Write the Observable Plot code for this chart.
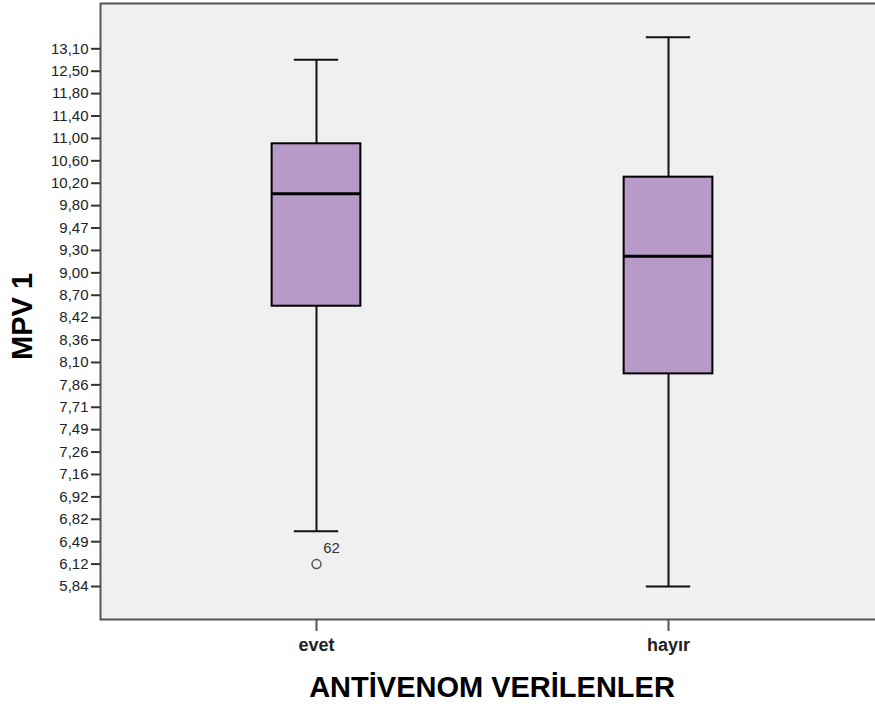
<!DOCTYPE html>
<html>
<head>
<meta charset="utf-8">
<script src="https://cdn.jsdelivr.net/npm/d3@7"></script>
<script src="https://cdn.jsdelivr.net/npm/@observablehq/plot@0.6"></script>
<style>
  html, body { margin: 0; padding: 0; background: #fff; }
  #chart svg { display: block; }
</style>
</head>
<body>
<div id="chart"></div>
<script>
// Ordinal MPV axis (evenly spaced tick labels, bottom to top)
const tickLabels = ["5,84","6,12","6,49","6,82","6,92","7,16","7,26","7,49","7,71","7,86",
  "8,10","8,36","8,42","8,70","9,00","9,30","9,47","9,80","10,20","10,60",
  "11,00","11,40","11,80","12,50","13,10"];
const categories = ["evet", "hayır"];
// Box statistics, expressed as positions on the ordinal MPV axis (tick rank)
const whiskerLow  = [2.47, 0.00];
const q1          = [12.51, 9.49];
const median      = [17.53, 14.74];
const q3          = [19.76, 18.27];
const whiskerHigh = [23.51, 24.52];
// Outliers
const outlierGroup = [0];
const outlierPos   = [1];      // 6,12
const outlierId    = ["62"];

const boxes = categories.map((c, i) => ({
  i, c, lo: whiskerLow[i], q1: q1[i], med: median[i], q3: q3[i], hi: whiskerHigh[i]
}));
const outliers = outlierGroup.map((g, k) => ({i: g, y: outlierPos[k], id: outlierId[k]}));

const BOX = 0.126, CAP = 0.063;

const chart = Plot.plot({
  width: 875,
  height: 706,
  marginLeft: 100,
  marginRight: 0,
  marginTop: 3,
  marginBottom: 87,
  style: {fontFamily: "'Liberation Sans', Arial, sans-serif", fontSize: "15px", color: "#222", background: "#fff", overflow: "visible"},
  x: {domain: [-0.6136, 1.588], axis: null},
  y: {domain: [-1.473, 26.022], axis: null},
  marks: [
    Plot.frame({fill: "#f0f0f0"}),
    Plot.frame({stroke: "#555", strokeWidth: 2, insetRight: -3}),
    // whiskers
    Plot.ruleX(boxes, {x: "i", y1: "q3", y2: "hi", stroke: "#111", strokeWidth: 2}),
    Plot.ruleX(boxes, {x: "i", y1: "lo", y2: "q1", stroke: "#111", strokeWidth: 2}),
    Plot.ruleY(boxes, {y: "hi", x1: d => d.i - CAP, x2: d => d.i + CAP, stroke: "#111", strokeWidth: 2}),
    Plot.ruleY(boxes, {y: "lo", x1: d => d.i - CAP, x2: d => d.i + CAP, stroke: "#111", strokeWidth: 2}),
    // boxes
    Plot.rect(boxes, {x1: d => d.i - BOX, x2: d => d.i + BOX, y1: "q1", y2: "q3", fill: "#b89ac8", stroke: "#000", strokeWidth: 2}),
    Plot.ruleY(boxes, {y: "med", x1: d => d.i - BOX, x2: d => d.i + BOX, stroke: "#000", strokeWidth: 3}),
    // outliers
    Plot.dot(outliers, {x: "i", y: "y", r: 4.5, stroke: "#555", strokeWidth: 1.5, fill: "none"}),
    Plot.text(outliers, {x: "i", y: "y", text: "id", dx: 15, dy: -16, fontSize: 15, fill: "#333"}),
    // axes
    Plot.axisY({ticks: d3.range(tickLabels.length), tickFormat: i => tickLabels[i], tickSize: 9, tickPadding: 3, strokeWidth: 2, stroke: "#333", fontSize: 15, label: null}),
    Plot.axisX({ticks: [0, 1], tickFormat: i => categories[i], tickSize: 12, tickPadding: 7, strokeWidth: 2, stroke: "#555", fontSize: 18, fontWeight: "bold", label: null}),
    // axis titles
    Plot.text(["ANTİVENOM VERİLENLER"], {frameAnchor: "bottom", textAnchor: "middle", lineAnchor: "bottom", dx: 4, dy: 77, fontSize: 29, fontWeight: "bold", fill: "#000"}),
    Plot.text(["MPV 1"], {frameAnchor: "left", textAnchor: "middle", lineAnchor: "middle", dx: -78, dy: 5, rotate: -90, fontSize: 29, fontWeight: "bold", fill: "#000"})
  ]
});
document.getElementById("chart").appendChild(chart);
</script>
</body>
</html>
